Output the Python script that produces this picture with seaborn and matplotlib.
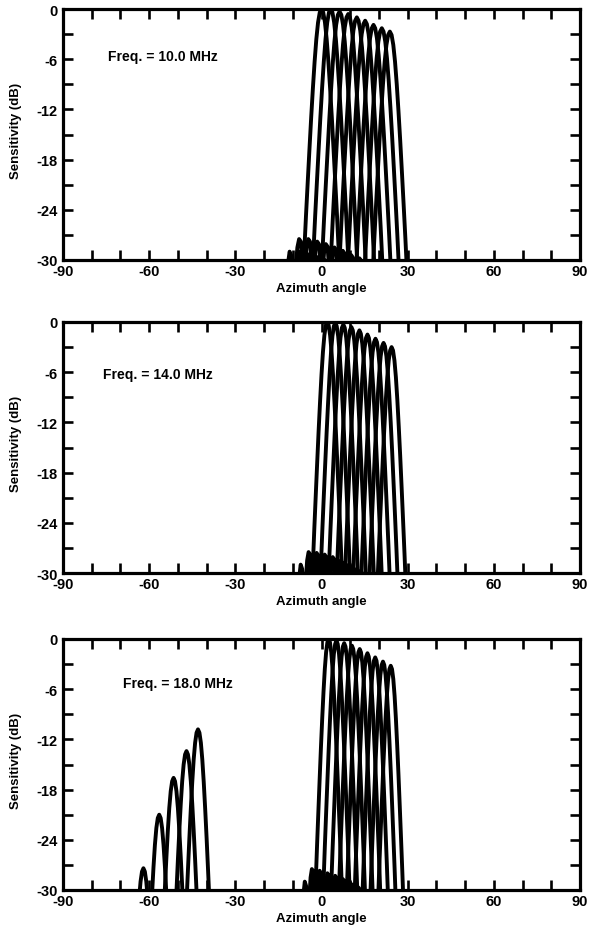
import numpy as np
import pandas as pd
import matplotlib
matplotlib.use("Agg")
import matplotlib.pyplot as plt
import seaborn as sns

# ---------------- data ----------------
# normalised beam shape: offset in units of null half-width, and level relative to peak (dB)
TEMPLATE_U = [-2.10, -2.05, -1.95, -1.85, -1.75, -1.65, -1.60, -1.55, -1.50, -1.40, -1.30, -1.20, -1.12, -1.08,
              -1.05, -1.00, -0.90, -0.80, -0.70, -0.60, -0.50, -0.40, -0.30, -0.20, -0.10, 0.00,
              0.10, 0.20, 0.30, 0.40, 0.50, 0.60, 0.70, 0.80, 0.90, 1.00, 1.05, 1.08]
TEMPLATE_DB = [-45, -36, -30.5, -29, -29.5, -33, -45, -36, -31, -28.5, -27.5, -27.8, -30, -36,
               -33, -29.0, -24.7, -20.7, -16.8, -13.0, -9.5, -6.3, -3.6, -1.6, -0.4, 0.0,
               -0.4, -1.6, -3.6, -6.3, -9.5, -13.0, -16.8, -20.7, -24.7, -29.0, -33, -45]

freq_labels = ["Freq. = 10.0 MHz", "Freq. = 14.0 MHz", "Freq. = 18.0 MHz"]
label_pos_x = [-74.5, -76.0, -69.0]
label_pos_y = [-5.6, -6.2, -5.2]

steer_10 = [0.0, 3.2, 6.3, 9.3, 12.3, 15.2, 18.1, 21.0, 23.8]
peak_10 = [0.0, 0.0, -0.3, -0.6, -1.0, -1.4, -1.9, -2.3, -2.7]
width_10 = 6.0

steer_14 = [2.0, 4.8, 7.6, 10.4, 13.2, 16.0, 18.8, 21.6, 24.4]
peak_14 = [0.0, -0.1, -0.3, -0.6, -1.0, -1.5, -2.0, -2.5, -3.0]
width_14 = 5.0

steer_18 = [2.5, 5.2, 7.9, 10.6, 13.3, 16.0, 18.7, 21.4, 24.1]
peak_18 = [0.0, -0.2, -0.5, -0.8, -1.2, -1.7, -2.2, -2.7, -3.2]
width_18 = 4.5

grating_steer_18 = [-62.0, -56.5, -51.5, -47.0, -43.0]
grating_peak_18 = [-27.4, -21.0, -16.6, -13.4, -10.8]
grating_width_18 = 5.0

x_ticks = list(range(-90, 91, 10))
x_labels = ["-90", "", "", "-60", "", "", "-30", "", "", "0", "", "", "30", "", "", "60", "", "", "90"]
y_ticks = list(range(-30, 1, 3))
y_labels = ["-30", "", "-24", "", "-18", "", "-12", "", "-6", "", "0"]

# ---------------- build long table ----------------
def beams(steers, peaks, width, tag):
    rows = []
    u = np.array(TEMPLATE_U)
    g = np.array(TEMPLATE_DB)
    for i, (s, p) in enumerate(zip(steers, peaks)):
        for a, d in zip(s + width * u, p + g):
            rows.append({"beam": f"{tag}{i}", "angle": a, "dB": d})
    return rows

panels = [
    pd.DataFrame(beams(steer_10, peak_10, width_10, "m")),
    pd.DataFrame(beams(steer_14, peak_14, width_14, "m")),
    pd.DataFrame(beams(steer_18, peak_18, width_18, "m")
                 + beams(grating_steer_18, grating_peak_18, grating_width_18, "g")),
]

# ---------------- figure ----------------
sns.set_style("ticks")
plt.rcParams["font.family"] = ["Liberation Sans", "DejaVu Sans"]
plt.rcParams["font.weight"] = "bold"
plt.rcParams["text.color"] = "black"
plt.rcParams["axes.labelcolor"] = "black"
plt.rcParams["xtick.color"] = "black"
plt.rcParams["ytick.color"] = "black"

fig = plt.figure(figsize=(5.95, 9.37), dpi=100)
W, H = 595.0, 937.0
boxes = [(10, 261), (323, 574), (640, 891)]
left_px, right_px = 63, 580

for k, (top, bot) in enumerate(boxes):
    ax = fig.add_axes([left_px / W, 1 - bot / H, (right_px - left_px) / W, (bot - top) / H])
    sns.lineplot(data=panels[k], x="angle", y="dB", units="beam", estimator=None,
                 sort=False, color="black", linewidth=2.8, ax=ax, legend=False)
    ax.set_xlim(-90, 90)
    ax.set_ylim(-30, 0)
    ax.set_xticks(x_ticks)
    ax.set_xticklabels(x_labels)
    ax.set_yticks(y_ticks)
    ax.set_yticklabels(y_labels)
    ax.tick_params(direction="in", length=7.5, width=1.9, top=True, right=True,
                   labelsize=10.5, pad=3, colors="black")
    ax.tick_params(axis="y", pad=4)
    for lab in ax.get_xticklabels() + ax.get_yticklabels():
        lab.set_fontweight("bold")
    for sp in ax.spines.values():
        sp.set_linewidth(2.3)
        sp.set_color("black")
        sp.set_visible(True)
    ax.set_xlabel("Azimuth angle", fontsize=9.5, fontweight="bold", color="black")
    ax.set_ylabel("Sensitivity (dB)", fontsize=9.5, fontweight="bold", color="black")
    ax.xaxis.set_label_coords(0.5, -0.088)
    ax.yaxis.set_label_coords(-0.079, 0.52)
    ax.text(label_pos_x[k], label_pos_y[k], freq_labels[k], fontsize=10,
            fontweight="bold", ha="left", va="center", color="black")

fig.savefig("out.png", dpi=100, facecolor="white")
